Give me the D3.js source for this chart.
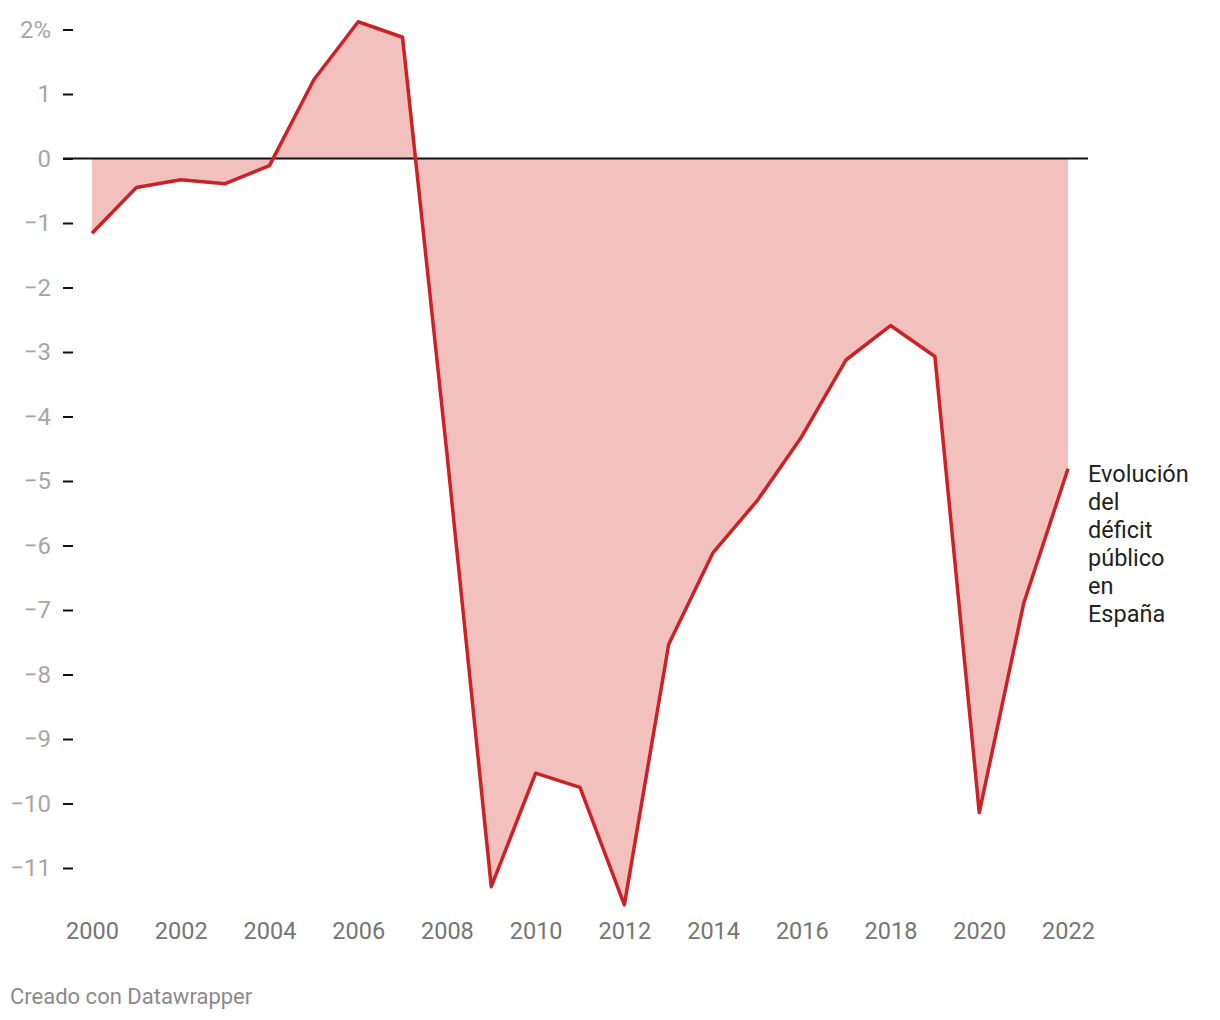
<!DOCTYPE html>
<html><head><meta charset="utf-8">
<script src="https://cdn.jsdelivr.net/npm/d3@7"></script>
<style>body{margin:0;background:#fff;font-family:Roboto,sans-serif;}</style>
</head><body>
<svg id="c" width="1220" height="1020"></svg>
<script>
const years = [2000,2001,2002,2003,2004,2005,2006,2007,2008,2009,2010,2011,2012,2013,2014,2015,2016,2017,2018,2019,2020,2021,2022];
const deficit = [-1.16,-0.45,-0.33,-0.39,-0.11,1.22,2.12,1.88,-4.57,-11.29,-9.53,-9.75,-11.57,-7.53,-6.11,-5.30,-4.31,-3.12,-2.59,-3.07,-10.14,-6.90,-4.81];
const yTicks = [2,1,0,-1,-2,-3,-4,-5,-6,-7,-8,-9,-10,-11];
const xTicks = [2000,2002,2004,2006,2008,2010,2012,2014,2016,2018,2020,2022];
const labelLines = ["Evolución","del","déficit","público","en","España"];
const footer = "Creado con Datawrapper";

const svg = d3.select("#c");
const x = d3.scaleLinear().domain([2000,2022]).range([92,1068]);
const y = d3.scaleLinear().domain([2,-11]).range([29.5,868]);
const data = years.map((yr,i)=>({yr, v:deficit[i]}));

svg.append("path").datum(data)
  .attr("d", d3.area().x(d=>x(d.yr)).y0(y(0)).y1(d=>y(d.v)))
  .attr("fill","#f2c1be");

const yAxis = svg.append("g").attr("transform","translate(73,0)")
  .call(d3.axisLeft(y).tickValues(yTicks).tickSize(10).tickPadding(12)
    .tickFormat(d => (d===2? "2%" : (d<0? "\u2212"+Math.abs(d) : String(d)))));
yAxis.select(".domain").remove();
yAxis.selectAll(".tick line").attr("stroke","#111").attr("stroke-width",2);
yAxis.selectAll("text").attr("fill","#a6a6a6").attr("font-size",24).attr("font-family","Roboto,sans-serif");

svg.append("line").attr("x1",63).attr("x2",1088).attr("y1",y(0)).attr("y2",y(0))
  .attr("stroke","#111").attr("stroke-width",2);

svg.append("path").datum(data)
  .attr("d", d3.line().x(d=>x(d.yr)).y(d=>y(d.v)))
  .attr("fill","none").attr("stroke","#cc2127").attr("stroke-width",3.5).attr("stroke-linejoin","round");

const xAxis = svg.append("g").attr("transform","translate(0,910)")
  .call(d3.axisBottom(x).tickValues(xTicks).tickSize(0).tickPadding(12).tickFormat(d3.format("d")));
xAxis.select(".domain").remove();
xAxis.selectAll("text").attr("fill","#757575").attr("font-size",23.5).attr("font-family","Roboto,sans-serif");

const lbl = svg.append("text").attr("x",1088).attr("y",482)
  .attr("fill","#222").attr("font-size",23.5).attr("font-family","Roboto,sans-serif");
labelLines.forEach((t,i)=>lbl.append("tspan").attr("x",1088).attr("dy", i===0?0:28).text(t));

svg.append("text").attr("x",10).attr("y",1004).attr("fill","#8a8a8a")
  .attr("font-size",22).attr("font-family","Roboto,sans-serif").text(footer);
</script>
</body></html>
